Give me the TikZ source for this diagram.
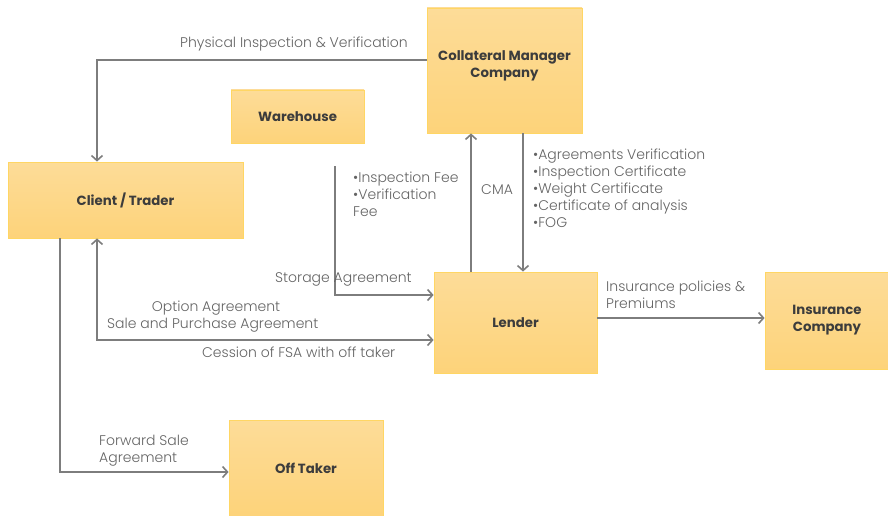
\documentclass[tikz,border=0pt]{standalone}
\usepackage{fontspec}
\setmainfont{Poppins}
\newfontfamily\labelfont{Poppins Light}
\usetikzlibrary{arrows.meta}
\definecolor{boxtop}{RGB}{253,220,152}
\definecolor{boxbot}{RGB}{253,211,122}
\definecolor{boxedge}{RGB}{255,214,100}
\definecolor{linegray}{RGB}{125,125,125}
\definecolor{labelgray}{RGB}{100,100,100}
\definecolor{boxtext}{RGB}{60,60,60}
\tikzset{
  entity/.style={draw=boxedge, line width=0.8pt, top color=boxtop, bottom color=boxbot,
    inner sep=0pt, font=\fontsize{13.3}{17}\selectfont\bfseries, text=boxtext, align=center},
  entitytext/.style={inner sep=0pt, font=\fontsize{13.3}{17}\selectfont\bfseries, text=boxtext, align=center},
  flowlabel/.style={inner sep=0pt, font=\labelfont\fontsize{14}{17}\selectfont, text=labelgray, align=left},
  flow/.style={draw=linegray, line width=1.6pt, -{Straight Barb[length=5pt,width=11pt,line width=1.6pt]}},
  flowboth/.style={draw=linegray, line width=1.6pt, {Straight Barb[length=5pt,width=11pt,line width=1.6pt]}-{Straight Barb[length=5pt,width=11pt,line width=1.6pt]}},
}
\begin{document}
\begin{tikzpicture}[x=1pt,y=-1pt]
\useasboundingbox (0,0) rectangle (888,516);

% parties
\node[entity, minimum width=155pt, minimum height=125pt] (cmc) at (504.5,70.5) {};
\node[entitytext] (cmctext) at (504.5,65.5) {Collateral Manager\\Company};
\node[entity, minimum width=133pt, minimum height=53pt] (warehouse) at (297.5,116.5) {Warehouse};
\node[entity, minimum width=235pt, minimum height=76pt] (client) at (125.5,200) {Client / Trader};
\node[entity, minimum width=163pt, minimum height=101pt] (lender) at (515.5,322.5) {Lender};
\node[entity, minimum width=124pt, minimum height=97pt] (insurance) at (827,320.5) {Insurance\\Company};
\node[entity, minimum width=154pt, minimum height=96pt] (offtaker) at (306,468) {Off Taker};

% bend points
\coordinate (pivL) at (97,60);
\coordinate (sab) at (97,340);
\coordinate (fsa) at (60,472);
\coordinate (stTop) at (335,166);
\coordinate (stBend) at (335,295);
\coordinate (cmaX) at (471,0);
\coordinate (docX) at (523,0);
\coordinate (insY) at (0,318);

% connectors
\draw[flow] (cmc.west |- pivL) -- (pivL) -- (pivL |- client.north);
\draw[flowboth] (sab |- client.south) -- (sab) -- (sab -| lender.west);
\draw[flow] (fsa |- client.south) -- (fsa) -- (fsa -| offtaker.west);
\draw[flow] (stTop) -- (stBend) -- (stBend -| lender.west);
\draw[flow] (cmaX |- lender.north) -- (cmaX |- cmc.south);
\draw[flow] (docX |- cmc.south) -- (docX |- lender.north);
\draw[flow] (lender.east |- insY) -- (insurance.west |- insY);

% connector labels
\node[flowlabel, anchor=west] (lblphys) at (180,44) {Physical Inspection \& Verification};
\node[flowlabel, anchor=north west] (lblfee) at (353,172) {•Inspection Fee\\•Verification\\Fee};
\node[flowlabel, anchor=west] (lblstore) at (275,279) {Storage Agreement};
\node[flowlabel, anchor=center] (lbloption) at (216,308) {Option Agreement};
\node[flowlabel, anchor=west] (lblspa) at (107,325) {Sale and Purchase Agreement};
\node[flowlabel, anchor=west] (lblcess) at (202,352) {Cession of FSA with off taker};
\node[flowlabel, anchor=north west] (lblfwd) at (99,435) {Forward Sale\\Agreement};
\node[flowlabel, anchor=west] (lblcma) at (481,190) {CMA};
\node[flowlabel, anchor=north west] (lbldocs) at (533,149) {•Agreements Verification\\•Inspection Certificate\\•Weight Certificate\\•Certificate of analysis\\•FOG};
\node[flowlabel, anchor=north west] (lblins) at (606,281) {Insurance policies \&\\Premiums};
\end{tikzpicture}
\end{document}
